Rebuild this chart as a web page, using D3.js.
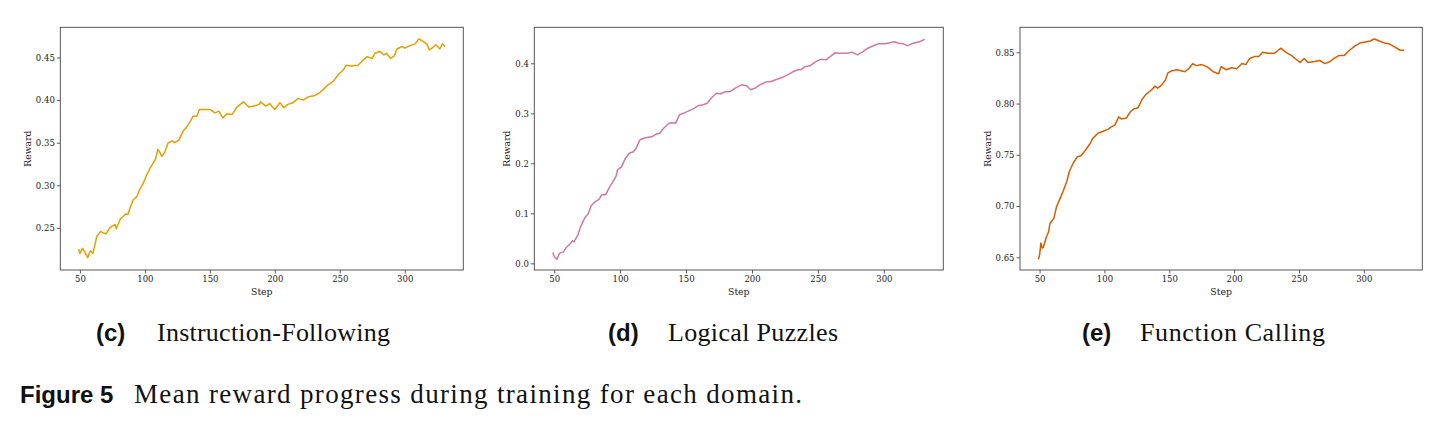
<!DOCTYPE html>
<html>
<head>
<meta charset="utf-8">
<script src="https://cdn.jsdelivr.net/npm/d3@7"></script>
<style>
  body { margin: 0; background: #fff; }
  svg { display: block; }
</style>
</head>
<body>
<div class="chart"></div>
<script>
// values
const steps1 = [49,50,52,54,56,58,60,63,66,68,70,73,77,78,81,85,87,89,91,94,96,99,101,104,108,110,111,113,115,118,121,123,126,130,132,135,137,140,142,146,150,154,157,160,163,167,171,176,180,184,188,189,193,196,200,204,207,210,214,218,222,226,230,234,237,241,245,249,253,255,259,264,268,271,275,277,281,284,286,289,292,294,298,300,304,308,311,314,317,319,321,324,327,329,331];
const reward1 = [0.225,0.220,0.226,0.221,0.215,0.223,0.220,0.240,0.246,0.244,0.243,0.250,0.254,0.249,0.260,0.266,0.266,0.275,0.283,0.287,0.295,0.303,0.311,0.320,0.330,0.342,0.340,0.334,0.338,0.350,0.352,0.350,0.353,0.365,0.368,0.375,0.381,0.381,0.389,0.389,0.389,0.385,0.387,0.379,0.384,0.383,0.392,0.398,0.392,0.393,0.395,0.398,0.393,0.396,0.389,0.397,0.391,0.395,0.397,0.402,0.400,0.404,0.405,0.408,0.412,0.418,0.422,0.430,0.436,0.441,0.440,0.441,0.447,0.451,0.449,0.455,0.457,0.453,0.455,0.449,0.452,0.460,0.463,0.461,0.464,0.466,0.472,0.469,0.466,0.459,0.461,0.465,0.460,0.466,0.463];

const steps2 = [49,50,51,52,54,57,59,62,64,65,68,70,73,76,78,81,84,86,89,92,94,97,98,101,104,107,110,112,115,118,121,124,127,130,133,137,140,142,145,148,152,156,159,163,166,169,173,176,180,183,187,192,196,199,202,206,211,214,219,223,227,231,235,237,240,244,248,252,256,259,263,266,268,272,276,280,284,287,292,296,301,308,311,315,318,321,324,327,331];
const reward2 = [0.022,0.013,0.011,0.008,0.020,0.023,0.031,0.039,0.045,0.043,0.057,0.073,0.090,0.100,0.115,0.123,0.128,0.137,0.137,0.153,0.161,0.175,0.187,0.193,0.210,0.220,0.223,0.230,0.247,0.250,0.252,0.253,0.258,0.260,0.270,0.280,0.281,0.280,0.297,0.300,0.305,0.310,0.315,0.317,0.320,0.330,0.340,0.339,0.343,0.343,0.350,0.357,0.355,0.347,0.350,0.357,0.363,0.363,0.368,0.372,0.377,0.383,0.387,0.387,0.393,0.395,0.403,0.408,0.407,0.413,0.421,0.420,0.420,0.420,0.422,0.417,0.423,0.429,0.435,0.439,0.439,0.443,0.440,0.439,0.435,0.439,0.441,0.443,0.448];

const steps3 = [49,50,51,52,53,55,57,58,61,63,66,68,71,73,76,79,82,85,89,91,95,99,103,105,108,111,113,117,120,123,126,129,132,136,139,141,144,147,149,152,156,159,162,165,168,171,175,179,181,184,188,190,194,198,202,206,209,212,216,219,222,226,231,234,236,240,244,248,251,254,257,262,266,270,274,277,281,285,289,293,297,301,305,308,312,316,320,324,328,331];
const reward3 = [0.648,0.652,0.664,0.659,0.660,0.669,0.675,0.683,0.688,0.699,0.708,0.714,0.724,0.734,0.742,0.748,0.749,0.754,0.761,0.766,0.771,0.773,0.775,0.777,0.779,0.787,0.785,0.786,0.792,0.795,0.796,0.804,0.809,0.813,0.817,0.815,0.818,0.823,0.830,0.832,0.833,0.832,0.831,0.834,0.839,0.837,0.838,0.836,0.834,0.831,0.829,0.836,0.833,0.835,0.834,0.839,0.838,0.844,0.846,0.846,0.850,0.849,0.849,0.852,0.854,0.850,0.847,0.843,0.840,0.844,0.840,0.841,0.842,0.839,0.841,0.844,0.847,0.847,0.852,0.856,0.859,0.860,0.861,0.863,0.861,0.859,0.858,0.855,0.852,0.852];

const xTicks = [50, 100, 150, 200, 250, 300];
const yTicks1 = [0.25, 0.30, 0.35, 0.40, 0.45];
const yTicks2 = [0.0, 0.1, 0.2, 0.3, 0.4];
const yTicks3 = [0.65, 0.70, 0.75, 0.80, 0.85];

const tags = ["(c)", "(d)", "(e)"];
const titles = ["Instruction-Following", "Logical Puzzles", "Function Calling"];
const colors = ["#E69F00", "#CC79A7", "#D55E00"];

// panel layout (pixels)
const W = 1446, H = 423;
const plotTop = 27.3, plotBottom = 270;
const panels = [
    { left: 60.3,  right: 463.3,  steps: steps1, reward: reward1, yTicks: yTicks1, yDom: [0.2005, 0.4855], fmt: ".2f", capX: 96,   titleX: 157,  titleW: 233 },
    { left: 534.3, right: 943.3,  steps: steps2, reward: reward2, yTicks: yTicks2, yDom: [-0.0133, 0.472], fmt: ".1f", capX: 608,  titleX: 668,  titleW: 170 },
    { left: 1020,  right: 1422.3, steps: steps3, reward: reward3, yTicks: yTicks3, yDom: [0.6376, 0.8744], fmt: ".2f", capX: 1082, titleX: 1140, titleW: 185 }
];

const svg = d3.select("div.chart")
    .append("svg")
    .attr("width", W)
    .attr("height", H);

panels.forEach(function(p, i) {
    const x = d3.scaleLinear().domain([34.9, 345.1]).range([p.left, p.right]);
    const y = d3.scaleLinear().domain(p.yDom).range([plotBottom, plotTop]);

    const g = svg.append("g");

    // axes
    const xa = g.append("g")
        .attr("transform", "translate(0," + plotBottom + ")")
        .call(d3.axisBottom(x).tickValues(xTicks).tickSize(3.5).tickSizeOuter(0).tickPadding(2.5));
    const ya = g.append("g")
        .attr("transform", "translate(" + p.left + ",0)")
        .call(d3.axisLeft(y).tickValues(p.yTicks).tickFormat(d3.format(p.fmt)).tickSize(3.5).tickSizeOuter(0).tickPadding(2));

    [xa, ya].forEach(function(a) {
        a.select(".domain").remove();
        a.selectAll("line").attr("stroke", "#333").attr("stroke-width", 0.8);
        a.selectAll("text")
            .attr("font-family", "DejaVu Serif")
            .attr("font-size", "8.5px")
            .attr("fill", "#222");
    });

    // frame
    g.append("rect")
        .attr("x", p.left)
        .attr("y", plotTop)
        .attr("width", p.right - p.left)
        .attr("height", plotBottom - plotTop)
        .attr("fill", "none")
        .attr("stroke", "#444")
        .attr("stroke-width", 0.9);

    // the reward curve
    const line = d3.line()
        .x(function(d, j) { return x(p.steps[j]); })
        .y(function(d) { return y(d); });
    g.append("path")
        .datum(p.reward)
        .attr("d", line)
        .attr("fill", "none")
        .attr("stroke", colors[i])
        .attr("stroke-width", 1.5)
        .attr("stroke-linejoin", "round");

    // axis labels
    g.append("text")
        .attr("x", (p.left + p.right) / 2)
        .attr("y", 295)
        .attr("text-anchor", "middle")
        .attr("font-family", "DejaVu Serif")
        .attr("font-size", "9.3px")
        .attr("fill", "#222")
        .text("Step");

    const lx = ya.node().getBBox().x + p.left - 5;
    g.append("text")
        .attr("transform", "translate(" + lx + "," + ((plotTop + plotBottom) / 2) + ") rotate(-90)")
        .attr("text-anchor", "middle")
        .attr("font-family", "DejaVu Serif")
        .attr("font-size", "9.3px")
        .attr("fill", "#222")
        .text("Reward");

    // sub captions
    g.append("text")
        .attr("x", p.capX)
        .attr("y", 341)
        .attr("font-family", "Liberation Sans")
        .attr("font-weight", "bold")
        .attr("font-size", "24px")
        .attr("fill", "#111")
        .text(tags[i]);
    g.append("text")
        .attr("x", p.titleX)
        .attr("y", 341)
        .attr("font-family", "Liberation Serif")
        .attr("font-size", "26px")
        .attr("fill", "#111")
        .attr("textLength", p.titleW)
        .attr("lengthAdjust", "spacing")
        .text(titles[i]);
});

// figure caption
svg.append("text")
    .attr("x", 20)
    .attr("y", 403)
    .attr("font-family", "Liberation Sans")
    .attr("font-weight", "bold")
    .attr("font-size", "24px")
    .attr("fill", "#111")
    .text("Figure 5");
svg.append("text")
    .attr("x", 134)
    .attr("y", 403)
    .attr("font-family", "Liberation Serif")
    .attr("font-size", "27px")
    .attr("fill", "#111")
    .attr("textLength", 668)
    .attr("lengthAdjust", "spacing")
    .text("Mean reward progress during training for each domain.");
</script>
</body>
</html>
